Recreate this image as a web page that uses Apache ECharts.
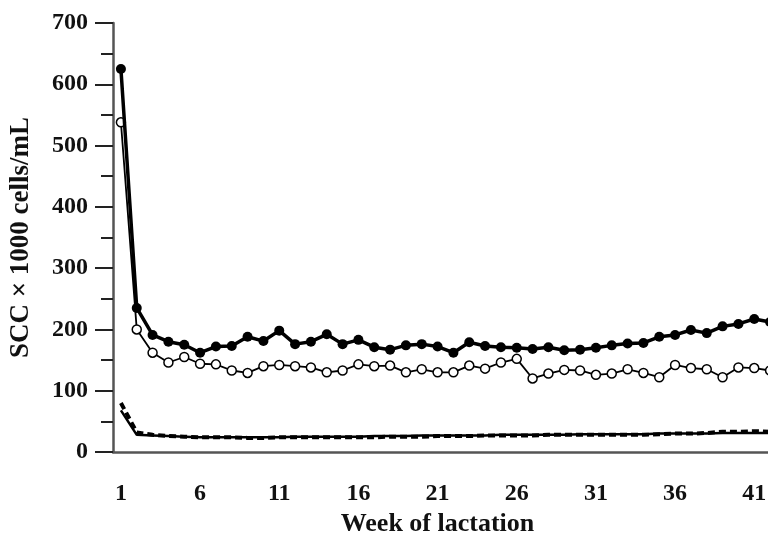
<!DOCTYPE html>
<html>
<head>
<meta charset="utf-8">
<script src="https://cdn.jsdelivr.net/npm/echarts@6/dist/echarts.min.js"></script>
<style>html,body{margin:0;padding:0;background:#fff;overflow:hidden;width:768px;height:539px}#c{width:778px;height:539px}</style>
</head>
<body>
<div id="c"></div>
<script>
const weeks = [];
for (let w = 1; w <= 42; w++) weeks.push(String(w));

const filledCircles = [625, 235, 191, 180, 175, 162, 172, 173, 188, 181, 198, 176, 180, 192, 176, 183, 171, 167, 174, 176, 172, 162, 179, 173, 171, 170, 168, 171, 166, 167, 170, 174, 177, 178, 188, 191, 199, 194, 205, 209, 217, 212];
const openCircles = [538, 200, 162, 146, 155, 144, 143, 133, 129, 140, 142, 140, 138, 130, 133, 143, 140, 141, 130, 135, 130, 130, 141, 136, 146, 152, 120, 128, 134, 133, 126, 128, 135, 129, 122, 142, 137, 135, 122, 138, 137, 133];
const dashedLow = [80, 32, 28, 26, 25, 24, 24, 24, 23, 23, 24, 24, 24, 24, 24, 24, 24, 25, 25, 25, 26, 26, 26, 27, 27, 27, 27, 28, 28, 28, 28, 28, 28, 28, 29, 30, 30, 31, 33, 33, 34, 33];
const solidLow = [68, 28, 27, 26, 25, 24, 24, 24, 24, 24, 24, 25, 25, 25, 25, 25, 26, 26, 26, 27, 27, 27, 27, 27, 28, 28, 28, 28, 28, 29, 29, 29, 29, 29, 30, 30, 30, 30, 31, 31, 31, 31];

const yTicks = [0, 100, 200, 300, 400, 500, 600, 700];

const font = 'Liberation Serif';
const chart = echarts.init(document.getElementById('c'));
chart.setOption({
  animation: false,
  backgroundColor: '#fff',
  grid: { left: 113, right: 0, top: 23, bottom: 87, containLabel: false, outerBoundsMode: 'none' },
  xAxis: {
    type: 'category',
    data: weeks,
    boundaryGap: true,
    name: 'Week of lactation',
    nameLocation: 'middle',
    nameGap: 59,
    nameTextStyle: { fontFamily: font, fontWeight: 'bold', fontSize: 26, color: '#111', padding: [0, 16, 0, 0] },
    axisLine: { lineStyle: { color: '#555', width: 2.5 } },
    axisTick: { interval: 0, length: 12, lineStyle: { color: '#222', width: 2 } },
    axisLabel: { interval: 4, margin: 30, fontFamily: font, fontWeight: 'bold', fontSize: 24, color: '#111' },
    splitLine: { show: false }
  },
  yAxis: {
    type: 'value',
    min: yTicks[0],
    max: yTicks[yTicks.length - 1],
    interval: 100,
    name: 'SCC \u00d7 1000 cells/mL',
    nameLocation: 'middle',
    nameGap: 78,
    nameTextStyle: { fontFamily: font, fontWeight: 'bold', fontSize: 27, color: '#111' },
    axisLine: { show: true, lineStyle: { color: '#555', width: 2.5 } },
    axisTick: { show: true, length: 18, lineStyle: { color: '#222', width: 2 } },
    minorTick: { show: true, splitNumber: 2, length: 12, lineStyle: { color: '#222', width: 2 } },
    axisLabel: { margin: 25, fontFamily: font, fontWeight: 'bold', fontSize: 24, color: '#111' },
    splitLine: { show: false }
  },
  series: [
    {
      type: 'line', data: solidLow, symbol: 'none',
      lineStyle: { color: '#000', width: 2.5 }, z: 2
    },
    {
      type: 'line', data: dashedLow, symbol: 'none',
      lineStyle: { color: '#000', width: 4, type: [7, 4] }, z: 3
    },
    {
      type: 'line', data: openCircles, symbol: 'circle', symbolSize: 9,
      lineStyle: { color: '#000', width: 1.8 },
      itemStyle: { color: '#fff', borderColor: '#000', borderWidth: 1.5 }, z: 4
    },
    {
      type: 'line', data: filledCircles, symbol: 'circle', symbolSize: 10,
      lineStyle: { color: '#000', width: 3.5 },
      itemStyle: { color: '#000', borderColor: '#000', borderWidth: 0 }, z: 5
    }
  ]
});
</script>
</body>
</html>
